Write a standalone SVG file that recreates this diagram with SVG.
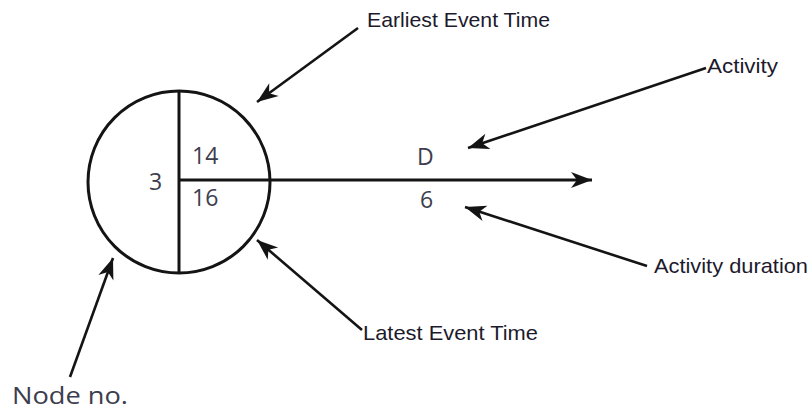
<svg xmlns="http://www.w3.org/2000/svg" width="812" height="412" viewBox="0 0 812 412">
<style>
.lbl{font-family:"Liberation Sans",Arial,sans-serif;font-size:21px;fill:#1c1a2c}
.num{font-family:"Open Sans","Noto Sans",sans-serif;font-size:23px;fill:#3d3d4d}
.ln{stroke:#141414;stroke-width:3;fill:none}
.ptr{stroke:#141414;stroke-width:2.6;fill:none;marker-end:url(#ah)}
</style>
<defs>
<marker id="ah" markerUnits="userSpaceOnUse" viewBox="-22 -9 24 18" refX="0" refY="0" markerWidth="24" markerHeight="18" orient="auto">
<path d="M0,0 L-21,-8 L-15,0 L-21,8 Z" fill="#141414"/>
</marker>
</defs>
<rect width="812" height="412" fill="#ffffff"/>
<g id="node3">
<circle class="ln" cx="179" cy="182" r="91"/>
<line class="ln" x1="179" y1="91" x2="179" y2="273"/>
<text class="num" x="149" y="190">3</text>
<text class="num" x="192" y="164">14</text>
<text class="num" x="192" y="206">16</text>
</g>
<g id="activity">
<line class="ln" x1="179" y1="180" x2="592" y2="180" marker-end="url(#ah)"/>
<text class="num" x="417" y="165">D</text>
<text class="num" x="420" y="208">6</text>
</g>
<g id="connectors">
<line class="ptr" x1="358" y1="28" x2="257" y2="102"/>
<line class="ptr" x1="706" y1="68" x2="468" y2="148"/>
<line class="ptr" x1="647" y1="266" x2="465" y2="207"/>
<line class="ptr" x1="362" y1="330" x2="257" y2="240"/>
<line class="ptr" x1="70" y1="377" x2="113" y2="258"/>
</g>
<g id="labels">
<text class="lbl" x="367" y="27" textLength="183" lengthAdjust="spacingAndGlyphs">Earliest Event Time</text>
<text class="lbl" x="707" y="73" textLength="71" lengthAdjust="spacingAndGlyphs">Activity</text>
<text class="lbl" x="654" y="273" textLength="154" lengthAdjust="spacingAndGlyphs">Activity duration</text>
<text class="lbl" x="363" y="340" textLength="175" lengthAdjust="spacingAndGlyphs">Latest Event Time</text>
<text class="num" x="12" y="404" font-size="22" textLength="116" lengthAdjust="spacingAndGlyphs">Node no.</text>
</g>
</svg>
